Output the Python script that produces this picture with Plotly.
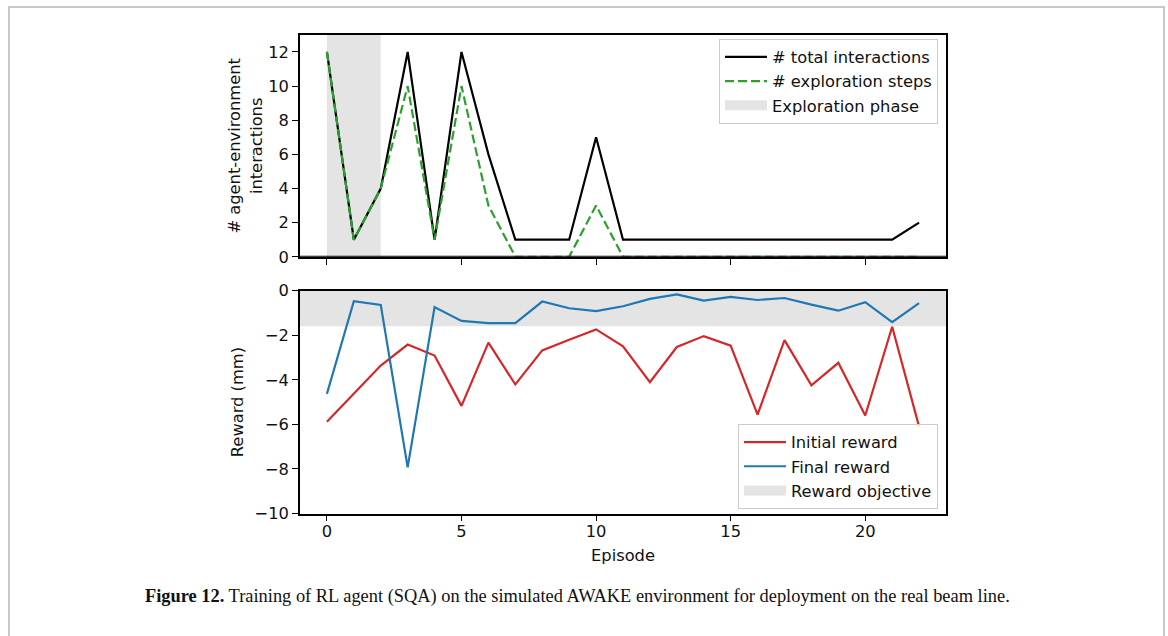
import plotly.graph_objects as go

W, H = 1168, 636
# observed rendering: vertical paper coordinates land at OFF + y*HE/H
OFF, HE = 8.0, 620.0


def py(y_px):
    """reference pixel row -> paper fraction"""
    return 1 - (y_px - OFF) / HE


def px(x_px):
    return x_px / W


episodes = list(range(23))
total_interactions = [12, 1, 4, 12, 1, 12, 6, 1, 1, 1, 7, 1, 1, 1, 1, 1, 1, 1, 1, 1, 1, 1, 2]
exploration_steps = [12, 1, 4, 10, 1, 10, 3, 0, 0, 0, 3, 0, 0, 0, 0, 0, 0, 0, 0, 0, 0, 0, 0]
initial_reward = [-5.88, -4.63, -3.36, -2.42, -2.91, -5.17, -2.33, -4.21, -2.68, -2.2, -1.74,
                  -2.5, -4.11, -2.53, -2.04, -2.47, -5.56, -2.22, -4.25, -3.24, -5.6, -1.62, -6.1]
final_reward = [-4.63, -0.47, -0.64, -7.93, -0.74, -1.36, -1.46, -1.46, -0.49, -0.79, -0.92,
                -0.7, -0.37, -0.17, -0.45, -0.28, -0.42, -0.33, -0.63, -0.9, -0.52, -1.41, -0.56]
exploration_phase = [0, 2]
reward_objective = -1.6
x_range = [-1, 23]
top_range = [0, 13]
bottom_range = [-10, 0]

x_ticks = [0, 5, 10, 15, 20]
top_ticks = [0, 2, 4, 6, 8, 10, 12]
bottom_ticks = [0, -2, -4, -6, -8, -10]

FONT = "DejaVu Sans"
FS = 16.3
TXT = "#111111"
SHADE = "#e4e4e4"

fig = go.Figure()

# exploration phase shading (top)
fig.add_trace(go.Scatter(
    x=[exploration_phase[0], exploration_phase[1], exploration_phase[1], exploration_phase[0], exploration_phase[0]],
    y=[-1, -1, 14, 14, -1], fill="toself", fillcolor=SHADE, mode="none",
    showlegend=False, xaxis="x", yaxis="y", hoverinfo="skip"))
fig.add_trace(go.Scatter(x=episodes, y=total_interactions, mode="lines",
                         line=dict(color="black", width=2.2), name="# total interactions",
                         xaxis="x", yaxis="y", legend="legend", legendrank=1))
fig.add_trace(go.Scatter(x=episodes, y=exploration_steps, mode="lines",
                         line=dict(color="#2ca02c", width=2.2, dash="9px,4px"),
                         name="# exploration steps", xaxis="x", yaxis="y", legend="legend", legendrank=2))
fig.add_trace(go.Scatter(x=[None], y=[None], mode="lines", line=dict(color=SHADE, width=14),
                         name="Exploration phase", xaxis="x", yaxis="y", legend="legend", legendrank=3))

# reward objective shading (bottom)
fig.add_trace(go.Scatter(
    x=[x_range[0] - 1, x_range[1] + 1, x_range[1] + 1, x_range[0] - 1, x_range[0] - 1],
    y=[reward_objective, reward_objective, 1, 1, reward_objective], fill="toself", fillcolor=SHADE,
    mode="none", showlegend=False, xaxis="x2", yaxis="y2", hoverinfo="skip"))
fig.add_trace(go.Scatter(x=episodes, y=initial_reward, mode="lines",
                         line=dict(color="#d62728", width=2.2), name="Initial reward",
                         xaxis="x2", yaxis="y2", legend="legend2", legendrank=1))
fig.add_trace(go.Scatter(x=episodes, y=final_reward, mode="lines",
                         line=dict(color="#1f77b4", width=2.2), name="Final reward",
                         xaxis="x2", yaxis="y2", legend="legend2", legendrank=2))
fig.add_trace(go.Scatter(x=[None], y=[None], mode="lines", line=dict(color=SHADE, width=14),
                         name="Reward objective", xaxis="x2", yaxis="y2", legend="legend2", legendrank=3))

axis_common = dict(showline=True, linecolor="black", linewidth=1.6, mirror=True,
                   ticks="outside", ticklen=6, tickwidth=1.3, tickcolor="black",
                   showgrid=False, zeroline=False,
                   tickfont=dict(family=FONT, size=FS, color=TXT))

legend_common = dict(bgcolor="rgba(255,255,255,0.85)", bordercolor="#cccccc", borderwidth=1,
                     font=dict(family=FONT, size=FS, color=TXT), xanchor="right",
                     yanchor="top", traceorder="normal", itemwidth=42, tracegroupgap=0)

fig.update_layout(
    width=W, height=H, margin=dict(l=0, r=0, t=0, b=0),
    paper_bgcolor="white", plot_bgcolor="white",
    xaxis=dict(domain=[px(300), px(946)], range=x_range, tickvals=x_ticks, showticklabels=False,
               anchor="y", **axis_common),
    yaxis=dict(domain=[py(257), py(34)], range=top_range, tickvals=top_ticks,
               anchor="x", title=dict(text="# agent-environment<br>interactions",
                                      font=dict(family=FONT, size=FS, color=TXT), standoff=2),
               **axis_common),
    xaxis2=dict(domain=[px(300), px(946)], range=x_range, tickvals=x_ticks, anchor="y2",
                ticklabelstandoff=-4,
                title=dict(text="Episode", font=dict(family=FONT, size=FS, color=TXT), standoff=10),
                **axis_common),
    yaxis2=dict(domain=[py(515), py(291)], range=bottom_range, tickvals=bottom_ticks,
                anchor="x2", title=dict(text="Reward (mm)", font=dict(family=FONT, size=FS, color=TXT),
                                        standoff=7),
                **axis_common),
    legend=dict(x=px(938), y=py(38), **legend_common),
    legend2=dict(x=px(938), y=py(425), **legend_common),
    showlegend=True,
)

# bottom spine of the top panel drawn over the traces (matplotlib-style spine covering y=0)
fig.add_shape(type="line", xref="x", yref="y", x0=x_range[0], x1=x_range[1], y0=top_range[0], y1=top_range[0],
              line=dict(color="black", width=2.2), layer="above")

# figure frame
fig.add_shape(type="rect", xref="paper", yref="paper", x0=px(9), x1=px(1164), y0=-0.1, y1=py(6),
              line=dict(color="#c8c8c8", width=2), fillcolor="rgba(0,0,0,0)", layer="below")

fig.add_annotation(
    text="<b>Figure 12.</b> Training of RL agent (SQA) on the simulated AWAKE environment for deployment on the real beam line.",
    xref="paper", yref="paper", x=px(577), y=py(598), xanchor="center", yanchor="middle",
    showarrow=False, font=dict(family="Liberation Serif", size=18.4, color=TXT))

fig.write_html("out.html")
